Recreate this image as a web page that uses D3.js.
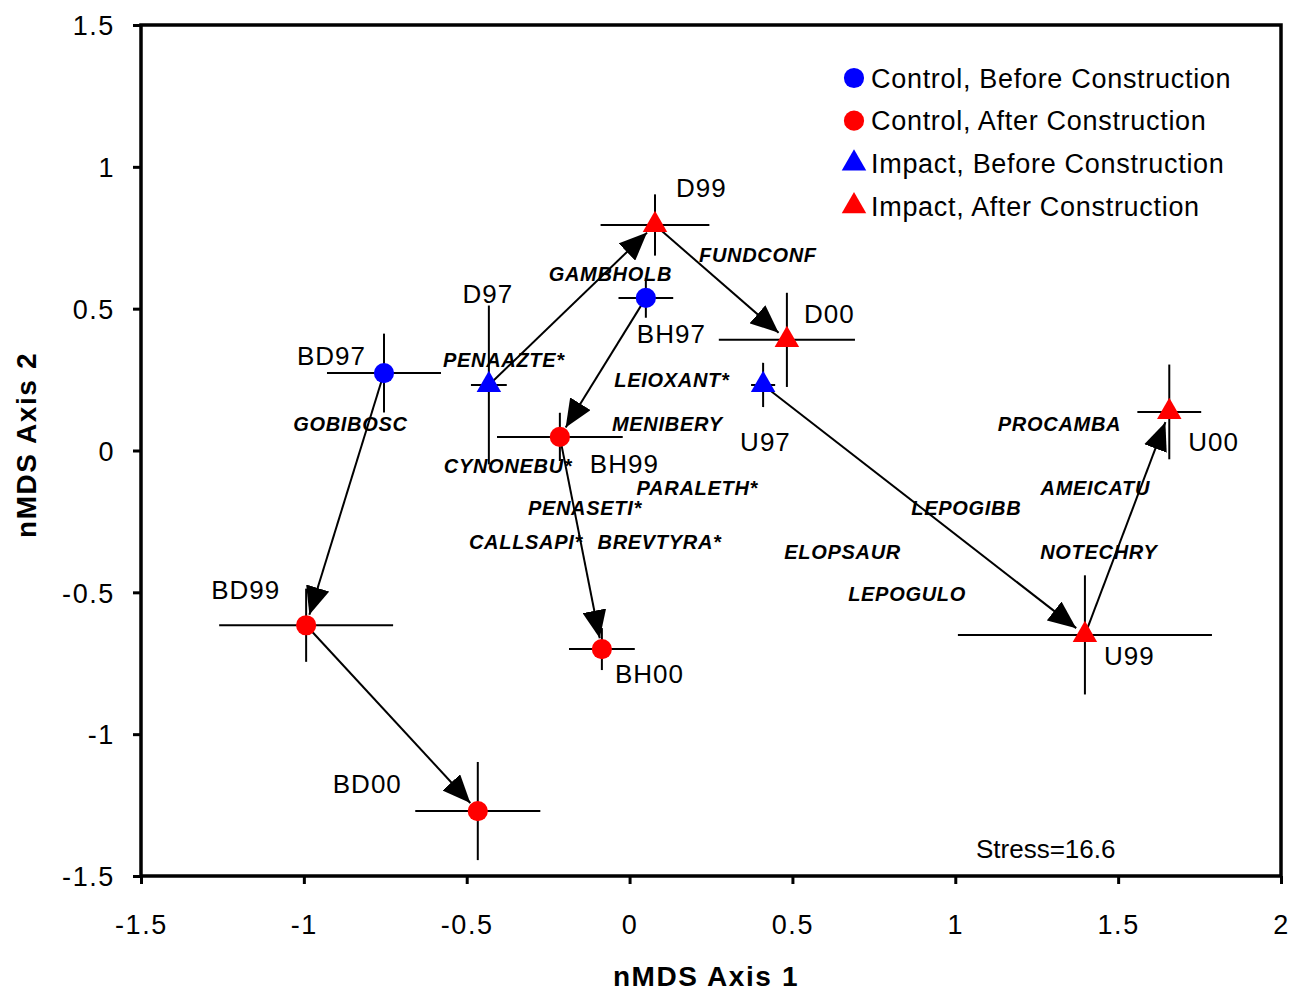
<!DOCTYPE html>
<html>
<head>
<meta charset="utf-8">
<script src="https://cdn.jsdelivr.net/npm/d3@7"></script>
<style>
  body { margin: 0; background: #fff; }
  text { font-family: "Liberation Sans", Arial, sans-serif; }
</style>
</head>
<body>
<script>
var width = 1294;
var height = 994;

// site centroids in nMDS space, with their +/- error
var sites  = ["BD97", "BD99", "BD00", "BH97", "BH99", "BH00", "D97", "D99", "D00", "U97", "U99", "U00"];
var groups = ["CB", "CA", "CA", "CB", "CA", "CA", "IB", "IA", "IA", "IB", "IA", "IA"];
var axis1  = [-0.754, -0.993, -0.466, 0.050, -0.214, -0.085, -0.432, 0.078, 0.483, 0.410, 1.398, 1.657];
var axis2  = [0.273, -0.616, -1.271, 0.538, 0.048, -0.700, 0.231, 0.795, 0.390, 0.231, -0.650, 0.136];
var err1   = [0.175, 0.267, 0.192, 0.084, 0.193, 0.101, 0.055, 0.167, 0.209, 0.037, 0.390, 0.098];
var err2   = [0.139, 0.129, 0.173, 0.070, 0.085, 0.074, 0.280, 0.108, 0.166, 0.078, 0.210, 0.167];

// before -> after trajectories
var trajectories = [
  ["BD97", "BD99", "BD00"],
  ["BH97", "BH99", "BH00"],
  ["D97", "D99", "D00"],
  ["U97", "U99", "U00"]
];

// species scores
var species  = ["GOBIBOSC", "PENAAZTE*", "GAMBHOLB", "FUNDCONF", "LEIOXANT*", "MENIBERY", "CYNONEBU*",
                "PARALETH*", "PENASETI*", "CALLSAPI*", "BREVTYRA*", "ELOPSAUR", "LEPOGULO", "LEPOGIBB",
                "PROCAMBA", "AMEICATU", "NOTECHRY"];
var speciesX = [-0.857, -0.386, -0.059, 0.394, 0.130, 0.116, -0.373, 0.208, -0.137, -0.318, 0.092,
                0.654, 0.852, 1.034, 1.320, 1.430, 1.441];
var speciesY = [0.093, 0.319, 0.622, 0.689, 0.248, 0.093, -0.055, -0.132, -0.203, -0.323, -0.323,
                -0.358, -0.506, -0.203, 0.093, -0.132, -0.358];

var groupKeys   = ["CB", "CA", "IB", "IA"];
var groupLabels = ["Control, Before Construction", "Control, After Construction",
                   "Impact, Before Construction", "Impact, After Construction"];

var xTicks = [-1.5, -1, -0.5, 0, 0.5, 1, 1.5, 2];
var yTicks = [-1.5, -1, -0.5, 0, 0.5, 1, 1.5];
var stressLabel = "Stress=16.6";

// where each site name sits relative to its point (pixels)
var labelPlace = {
  BD97: [-18, -8, "end"], D97: [-1, -82, "middle"], BH97: [-9, 45, "start"], U97: [-23, 66, "start"],
  D99: [21, -28, "start"], D00: [17, -17, "start"], BH99: [30, 36, "start"], BH00: [13, 34, "start"],
  BD99: [-95, -26, "start"], BD00: [-145, -18, "start"], U99: [19, 30, "start"], U00: [19, 39, "start"]
};

var colour = {CB: "#0000ff", CA: "#ff0000", IB: "#0000ff", IA: "#ff0000"};
var shape  = {CB: d3.symbolCircle, CA: d3.symbolCircle, IB: d3.symbolTriangle, IA: d3.symbolTriangle};
var symSize = {CB: 320, CA: 320, IB: 260, IA: 260};

var x = d3.scaleLinear().domain([-1.5, 2]).range([141, 1281]);
var y = d3.scaleLinear().domain([-1.5, 1.5]).range([876, 25]);

var svg = d3.select("body").append("svg").attr("width", width).attr("height", height);

svg.append("defs").append("marker")
  .attr("id", "head")
  .attr("markerUnits", "userSpaceOnUse")
  .attr("viewBox", "0 0 28 24")
  .attr("refX", 28).attr("refY", 12)
  .attr("markerWidth", 28).attr("markerHeight", 24)
  .attr("orient", "auto")
  .append("path").attr("d", "M0,0L28,12L0,24Z").attr("fill", "#000");

var pts = sites.map(function(s, i) {
  return {site: s, g: groups[i], x: axis1[i], y: axis2[i], ex: err1[i], ey: err2[i]};
});
var bySite = {};
pts.forEach(function(p) { bySite[p.site] = p; });

// axes
var xAxis = svg.append("g").attr("transform", "translate(0,876)")
  .call(d3.axisBottom(x).tickValues(xTicks).tickSize(8).tickPadding(31).tickFormat(function(d) { return String(d); }));
var yAxis = svg.append("g").attr("transform", "translate(141,0)")
  .call(d3.axisLeft(y).tickValues(yTicks).tickSize(8).tickPadding(18).tickFormat(function(d) { return String(d); }));
[xAxis, yAxis].forEach(function(a) {
  a.select(".domain").remove();
  a.selectAll(".tick line").attr("stroke", "#000").attr("stroke-width", 3);
  a.selectAll(".tick text").attr("font-size", 27).attr("letter-spacing", 1.6)
    .attr("font-family", "Liberation Sans, Arial, sans-serif").attr("fill", "#000");
});
yAxis.selectAll(".tick text").attr("dy", "0.36em");

// frame
svg.append("rect").attr("x", 141).attr("y", 25).attr("width", 1140).attr("height", 851)
  .attr("fill", "none").attr("stroke", "#000").attr("stroke-width", 3.5);

// axis titles
svg.append("text").attr("x", 706).attr("y", 986).attr("text-anchor", "middle")
  .attr("font-size", 28).attr("font-weight", "bold").attr("letter-spacing", 1.6).text("nMDS Axis 1");
svg.append("text").attr("transform", "translate(36,445) rotate(-90)").attr("text-anchor", "middle")
  .attr("font-size", 28).attr("font-weight", "bold").attr("letter-spacing", 1.6).text("nMDS Axis 2");

// species names
svg.append("g").selectAll("text").data(species).enter().append("text")
  .attr("x", function(d, i) { return x(speciesX[i]); })
  .attr("y", function(d, i) { return y(speciesY[i]); })
  .attr("dy", "0.36em")
  .attr("text-anchor", "middle")
  .attr("font-size", 20).attr("font-weight", "bold").attr("font-style", "italic")
  .attr("letter-spacing", 0.7)
  .text(function(d) { return d; });

// error crosses
var errs = svg.append("g").attr("stroke", "#000").attr("stroke-width", 2);
errs.selectAll("line.h").data(pts).enter().append("line").attr("class", "h")
  .attr("x1", function(d) { return x(d.x - d.ex); }).attr("x2", function(d) { return x(d.x + d.ex); })
  .attr("y1", function(d) { return y(d.y); }).attr("y2", function(d) { return y(d.y); });
errs.selectAll("line.v").data(pts).enter().append("line").attr("class", "v")
  .attr("x1", function(d) { return x(d.x); }).attr("x2", function(d) { return x(d.x); })
  .attr("y1", function(d) { return y(d.y - d.ey); }).attr("y2", function(d) { return y(d.y + d.ey); });

// trajectory arrows
var segs = [];
trajectories.forEach(function(t) {
  for (var i = 0; i < t.length - 1; i++) segs.push([bySite[t[i]], bySite[t[i + 1]]]);
});
svg.append("g").selectAll("line").data(segs).enter().append("line")
  .attr("stroke", "#000").attr("stroke-width", 2).attr("marker-end", "url(#head)")
  .each(function(d) {
    var x1 = x(d[0].x), y1 = y(d[0].y), x2 = x(d[1].x), y2 = y(d[1].y);
    var len = Math.sqrt((x2 - x1) * (x2 - x1) + (y2 - y1) * (y2 - y1));
    var k = (len - 11) / len;
    d3.select(this).attr("x1", x1).attr("y1", y1)
      .attr("x2", x1 + (x2 - x1) * k).attr("y2", y1 + (y2 - y1) * k);
  });

// site markers
svg.append("g").selectAll("path").data(pts).enter().append("path")
  .attr("transform", function(d) { return "translate(" + x(d.x) + "," + y(d.y) + ")"; })
  .attr("d", function(d) { return d3.symbol().type(shape[d.g]).size(symSize[d.g])(); })
  .attr("fill", function(d) { return colour[d.g]; });

// site names
svg.append("g").selectAll("text").data(pts).enter().append("text")
  .attr("x", function(d) { return x(d.x) + labelPlace[d.site][0]; })
  .attr("y", function(d) { return y(d.y) + labelPlace[d.site][1]; })
  .attr("text-anchor", function(d) { return labelPlace[d.site][2]; })
  .attr("font-size", 26).attr("letter-spacing", 1)
  .text(function(d) { return d.site; });

// legend
var legend = svg.append("g").selectAll("g").data(groupKeys).enter().append("g")
  .attr("transform", function(d, i) { return "translate(854," + (78 + i * 42.7) + ")"; });
legend.append("path")
  .attr("d", function(d) { return d3.symbol().type(shape[d]).size(symSize[d])(); })
  .attr("fill", function(d) { return colour[d]; });
legend.append("text").attr("x", 17).attr("dy", "0.36em")
  .attr("font-size", 27).attr("letter-spacing", 0.7)
  .text(function(d, i) { return groupLabels[i]; });

svg.append("text").attr("x", 976).attr("y", 858).attr("font-size", 26).text(stressLabel);
</script>
</body>
</html>
